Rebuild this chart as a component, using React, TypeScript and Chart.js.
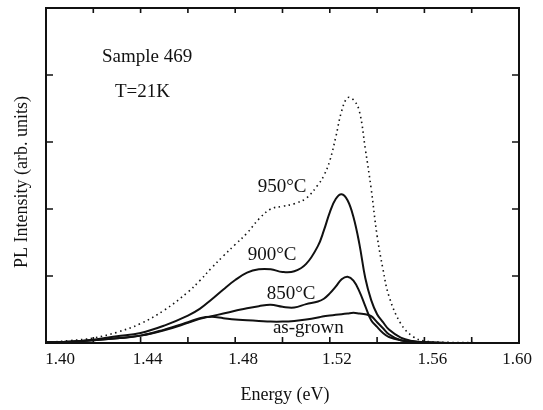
import React, { useEffect, useRef } from "react";
import { Chart, registerables } from "chart.js";

Chart.register(...registerables);

const energies = [1.40, 1.41, 1.42, 1.43, 1.44, 1.45, 1.46, 1.465, 1.47, 1.475, 1.48, 1.485, 1.49, 1.495, 1.50, 1.505, 1.51, 1.515, 1.5175, 1.52, 1.5225, 1.525, 1.5275, 1.53, 1.5325, 1.535, 1.5375, 1.54, 1.5425, 1.545, 1.55, 1.555, 1.56, 1.57, 1.58, 1.60];

const asGrown = [0.01, 0.02, 0.04, 0.07, 0.11, 0.2, 0.31, 0.37, 0.39, 0.37, 0.35, 0.34, 0.33, 0.32, 0.32, 0.33, 0.35, 0.38, 0.4, 0.41, 0.42, 0.43, 0.44, 0.45, 0.44, 0.43, 0.4, 0.31, 0.22, 0.13, 0.04, 0.02, 0.01, 0, 0, 0];
const t850 = [0.01, 0.02, 0.04, 0.07, 0.11, 0.19, 0.3, 0.36, 0.4, 0.44, 0.48, 0.52, 0.55, 0.57, 0.54, 0.53, 0.58, 0.62, 0.66, 0.74, 0.84, 0.95, 0.99, 0.93, 0.77, 0.55, 0.34, 0.24, 0.15, 0.09, 0.04, 0.02, 0.01, 0, 0, 0];
const t900 = [0.01, 0.02, 0.05, 0.1, 0.15, 0.26, 0.41, 0.51, 0.65, 0.8, 0.94, 1.05, 1.1, 1.1, 1.06, 1.07, 1.18, 1.45, 1.68, 1.95, 2.15, 2.22, 2.13, 1.88, 1.48, 0.97, 0.64, 0.43, 0.31, 0.2, 0.08, 0.03, 0.01, 0, 0, 0];
const t950 = [0.01, 0.035, 0.075, 0.16, 0.29, 0.49, 0.76, 0.93, 1.12, 1.3, 1.47, 1.64, 1.85, 2.0, 2.04, 2.08, 2.16, 2.36, 2.5, 2.72, 3.07, 3.46, 3.66, 3.63, 3.46, 2.9, 2.3, 1.6, 1.1, 0.7, 0.29, 0.1, 0.03, 0.01, 0.005, 0];

const xTickValues = [1.40, 1.44, 1.48, 1.52, 1.56, 1.60];
const xTickLabels = ["1.40", "1.44", "1.48", "1.52", "1.56", "1.60"];
const xMinorValues = [1.42, 1.44, 1.46, 1.48, 1.50, 1.52, 1.54, 1.56, 1.58];
const yTickValues = [1, 2, 3, 4];

const curveLabels = ["950\u00B0C", "900\u00B0C", "850\u00B0C", "as-grown"];
const curveLabelX = [1.4998, 1.4956, 1.5036, 1.5109];
const curveLabelY = [2.33, 1.31, 0.73, 0.22];

const noteLines = ["Sample 469", "T=21K"];

const FONT = "'Liberation Serif', 'DejaVu Serif', serif";

const framePlugin = {
  id: "framePlugin",
  beforeDraw(chart: any) {
    const ctx = chart.ctx;
    ctx.save();
    ctx.fillStyle = "#ffffff";
    ctx.fillRect(0, 0, chart.width, chart.height);
    ctx.restore();
  },
  afterDraw(chart: any) {
    const ctx = chart.ctx;
    const { left, right, top, bottom } = chart.chartArea;
    const xs = chart.scales.x;
    const ys = chart.scales.y;
    ctx.save();
    ctx.strokeStyle = "#111";
    ctx.lineWidth = 2;
    ctx.strokeRect(left, top, right - left, bottom - top);
    ctx.lineWidth = 1.6;
    ctx.beginPath();
    xMinorValues.forEach((v) => {
      const px = xs.getPixelForValue(v);
      ctx.moveTo(px, bottom);
      ctx.lineTo(px, bottom - 6);
      ctx.moveTo(px, top);
      ctx.lineTo(px, top + 5);
    });
    yTickValues.forEach((v) => {
      const py = ys.getPixelForValue(v);
      ctx.moveTo(left, py);
      ctx.lineTo(left + 7, py);
      ctx.moveTo(right, py);
      ctx.lineTo(right - 7, py);
    });
    ctx.stroke();

    ctx.fillStyle = "#111";
    ctx.font = `17px ${FONT}`;
    ctx.textAlign = "center";
    ctx.textBaseline = "middle";
    const labelShift = [14, 7, 8, 7, 8, -2];
    xTickValues.forEach((v, i) => {
      const px = xs.getPixelForValue(v);
      ctx.fillText(xTickLabels[i], px + labelShift[i], 360);
    });

    ctx.font = `18px ${FONT}`;
    ctx.fillText("Energy (eV)", 285, 395);
    ctx.save();
    ctx.translate(22, 182);
    ctx.rotate(-Math.PI / 2);
    ctx.fillText("PL Intensity (arb. units)", 0, 0);
    ctx.restore();

    ctx.font = `19px ${FONT}`;
    ctx.textAlign = "left";
    ctx.fillText(noteLines[0], 102, 57);
    ctx.fillText(noteLines[1], 115, 92);

    ctx.textAlign = "center";
    curveLabels.forEach((t, i) => {
      ctx.fillText(t, xs.getPixelForValue(curveLabelX[i]), ys.getPixelForValue(curveLabelY[i]));
    });
    ctx.restore();
  },
};

function toPoints(arr: number[]) {
  return energies.map((e, i) => ({ x: e, y: arr[i] }));
}

export default function App() {
  const ref = useRef<HTMLCanvasElement | null>(null);
  useEffect(() => {
    if (!ref.current) return;
    const solid = {
      borderColor: "#111",
      borderWidth: 2,
      pointRadius: 0,
      fill: false,
      tension: 0.4,
    };
    const chart = new Chart(ref.current, {
      type: "line",
      data: {
        datasets: [
          { ...solid, label: "as-grown", data: toPoints(asGrown) },
          { ...solid, label: "850", data: toPoints(t850) },
          { ...solid, label: "900", data: toPoints(t900) },
          {
            ...solid,
            label: "950",
            data: toPoints(t950),
            borderWidth: 1.6,
            borderDash: [1.5, 3.5],
          },
        ],
      },
      options: {
        animation: false,
        responsive: false,
        devicePixelRatio: 1,
        layout: { padding: { left: 46, right: 24, top: 8, bottom: 67 } },
        plugins: { legend: { display: false }, tooltip: { enabled: false } },
        scales: {
          x: { type: "linear", min: 1.4, max: 1.6, display: false },
          y: { type: "linear", min: 0, max: 5, display: false },
        },
      },
      plugins: [framePlugin],
    });
    return () => chart.destroy();
  }, []);
  return (
    <div style={{ position: "absolute", left: 0, top: 0, width: 543, height: 410 }}>
      <canvas ref={ref} width={543} height={410} />
    </div>
  );
}
